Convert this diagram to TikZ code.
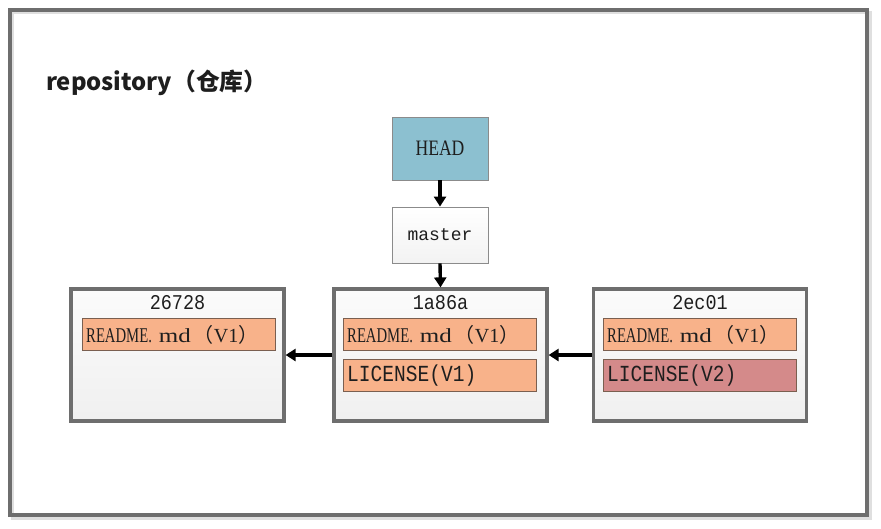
\documentclass[tikz,border=0pt]{standalone}
\usepackage{fontspec}
\newfontfamily\cjk{Noto Sans CJK SC}
\newfontfamily\ser[FakeStretch=0.7]{Liberation Serif}
\newfontfamily\serh[FakeStretch=0.8]{Liberation Serif}
\newfontfamily\serw[FakeStretch=1.25]{Liberation Serif}
\newfontfamily\sern{Liberation Serif}
\newfontfamily\mon{Liberation Mono}
\newfontfamily\monc[FakeStretch=0.85]{Liberation Mono}
\newfontfamily\mont[FakeStretch=0.88]{Liberation Mono}
\usetikzlibrary{arrows.meta}
\definecolor{frame}{HTML}{6E6E6E}
\definecolor{headfill}{HTML}{8CC0D0}
\definecolor{orangefill}{HTML}{F8B28A}
\definecolor{redfill}{HTML}{D48A8A}
\definecolor{filebord}{HTML}{7A5F50}
\definecolor{txt}{HTML}{1E1E1E}
\tikzset{
  refbox/.style={draw=frame!80, line width=0.9pt, minimum width=96pt, minimum height=60pt, text=txt},
  commit/.style={draw=frame, line width=3.2pt, top color=white!97!gray, bottom color=gray!12, minimum width=213pt, minimum height=132pt},
  filebox/.style={draw=filebord, line width=0.8pt, minimum width=193pt, minimum height=32pt, text=txt, text depth=0pt, anchor=north west, inner sep=0pt},
  filetxt/.style={anchor=west, text=txt, inner sep=0pt},
  lictxt/.style={filetxt, font=\monc\fontsize{23}{23}\selectfont},
  link/.style={line width=3.4pt, -{Triangle[length=10pt,width=12pt]}},
  ctitle/.style={font=\mont\fontsize{21}{21}\selectfont, text=txt, inner sep=0pt}
}
\newcommand{\readme}{{\ser\fontsize{21}{21}\selectfont README.}\hspace{7pt}{\serw\fontsize{20}{20}\selectfont md}{\cjk\fontsize{20}{20}\selectfont \hspace{3pt}（}{\sern\fontsize{20}{20}\selectfont V1}{\cjk\fontsize{20}{20}\selectfont ）}}
\begin{document}
\begin{tikzpicture}[x=1pt,y=-1pt]
\useasboundingbox (0,0) rectangle (881,528);
\fill[white] (0,0) rectangle (881,528);
% outer frame
\draw[gray!25, line width=3pt] (12.5,12.5) rectangle (870.5,518.5);
\draw[frame, line width=4pt] (10,10) rectangle (867,515);
\node[anchor=west, inner sep=0pt, text=txt, font=\cjk\bfseries\fontsize{23.8}{24}\selectfont] (title) at (46,83) {repository（仓库）};
% refs
\node[refbox, fill=headfill, minimum height=63pt, font=\serh\fontsize{22}{22}\selectfont] (head) at (440,148.5) {HEAD};
\node[refbox, top color=white, bottom color=gray!10, minimum height=56pt, font=\mon\fontsize{18}{18}\selectfont] (master) at (440,235) {master};
% commits
\node[commit] (c1) at (177.5,355) {};
\node[commit] (c2) at (440.5,355) {};
\node[commit] (c3) at (700,355) {};
\node[ctitle] (t1) at (177.5,303) {26728};
\node[ctitle] (t2) at (440.5,303) {1a86a};
\node[ctitle] (t3) at (700,303) {2ec01};
% files
\node[filebox, fill=orangefill] (f1a) at (82,318) {};
\node[filetxt] (l1a) at ([xshift=4pt]f1a.west) {\readme};
\node[filebox, fill=orangefill] (f2a) at (343,318) {};
\node[filetxt] (l2a) at ([xshift=4pt]f2a.west) {\readme};
\node[filebox, fill=orangefill] (f2b) at (343,359) {};
\node[lictxt] (l2b) at ([xshift=4pt]f2b.west) {LICENSE(V1)};
\node[filebox, fill=orangefill] (f3a) at (603,318) {};
\node[filetxt] (l3a) at ([xshift=4pt]f3a.west) {\readme};
\node[filebox, fill=redfill] (f3b) at (603,359) {};
\node[lictxt] (l3b) at ([xshift=4pt]f3b.west) {LICENSE(V2)};
% connectors
\draw[link] (head.south) -- (master.north);
\draw[link] (master.south) -- (c2.north);
\draw[link] (c2.west) -- (c1.east);
\draw[link] (c3.west) -- (c2.east);
\end{tikzpicture}
\end{document}
